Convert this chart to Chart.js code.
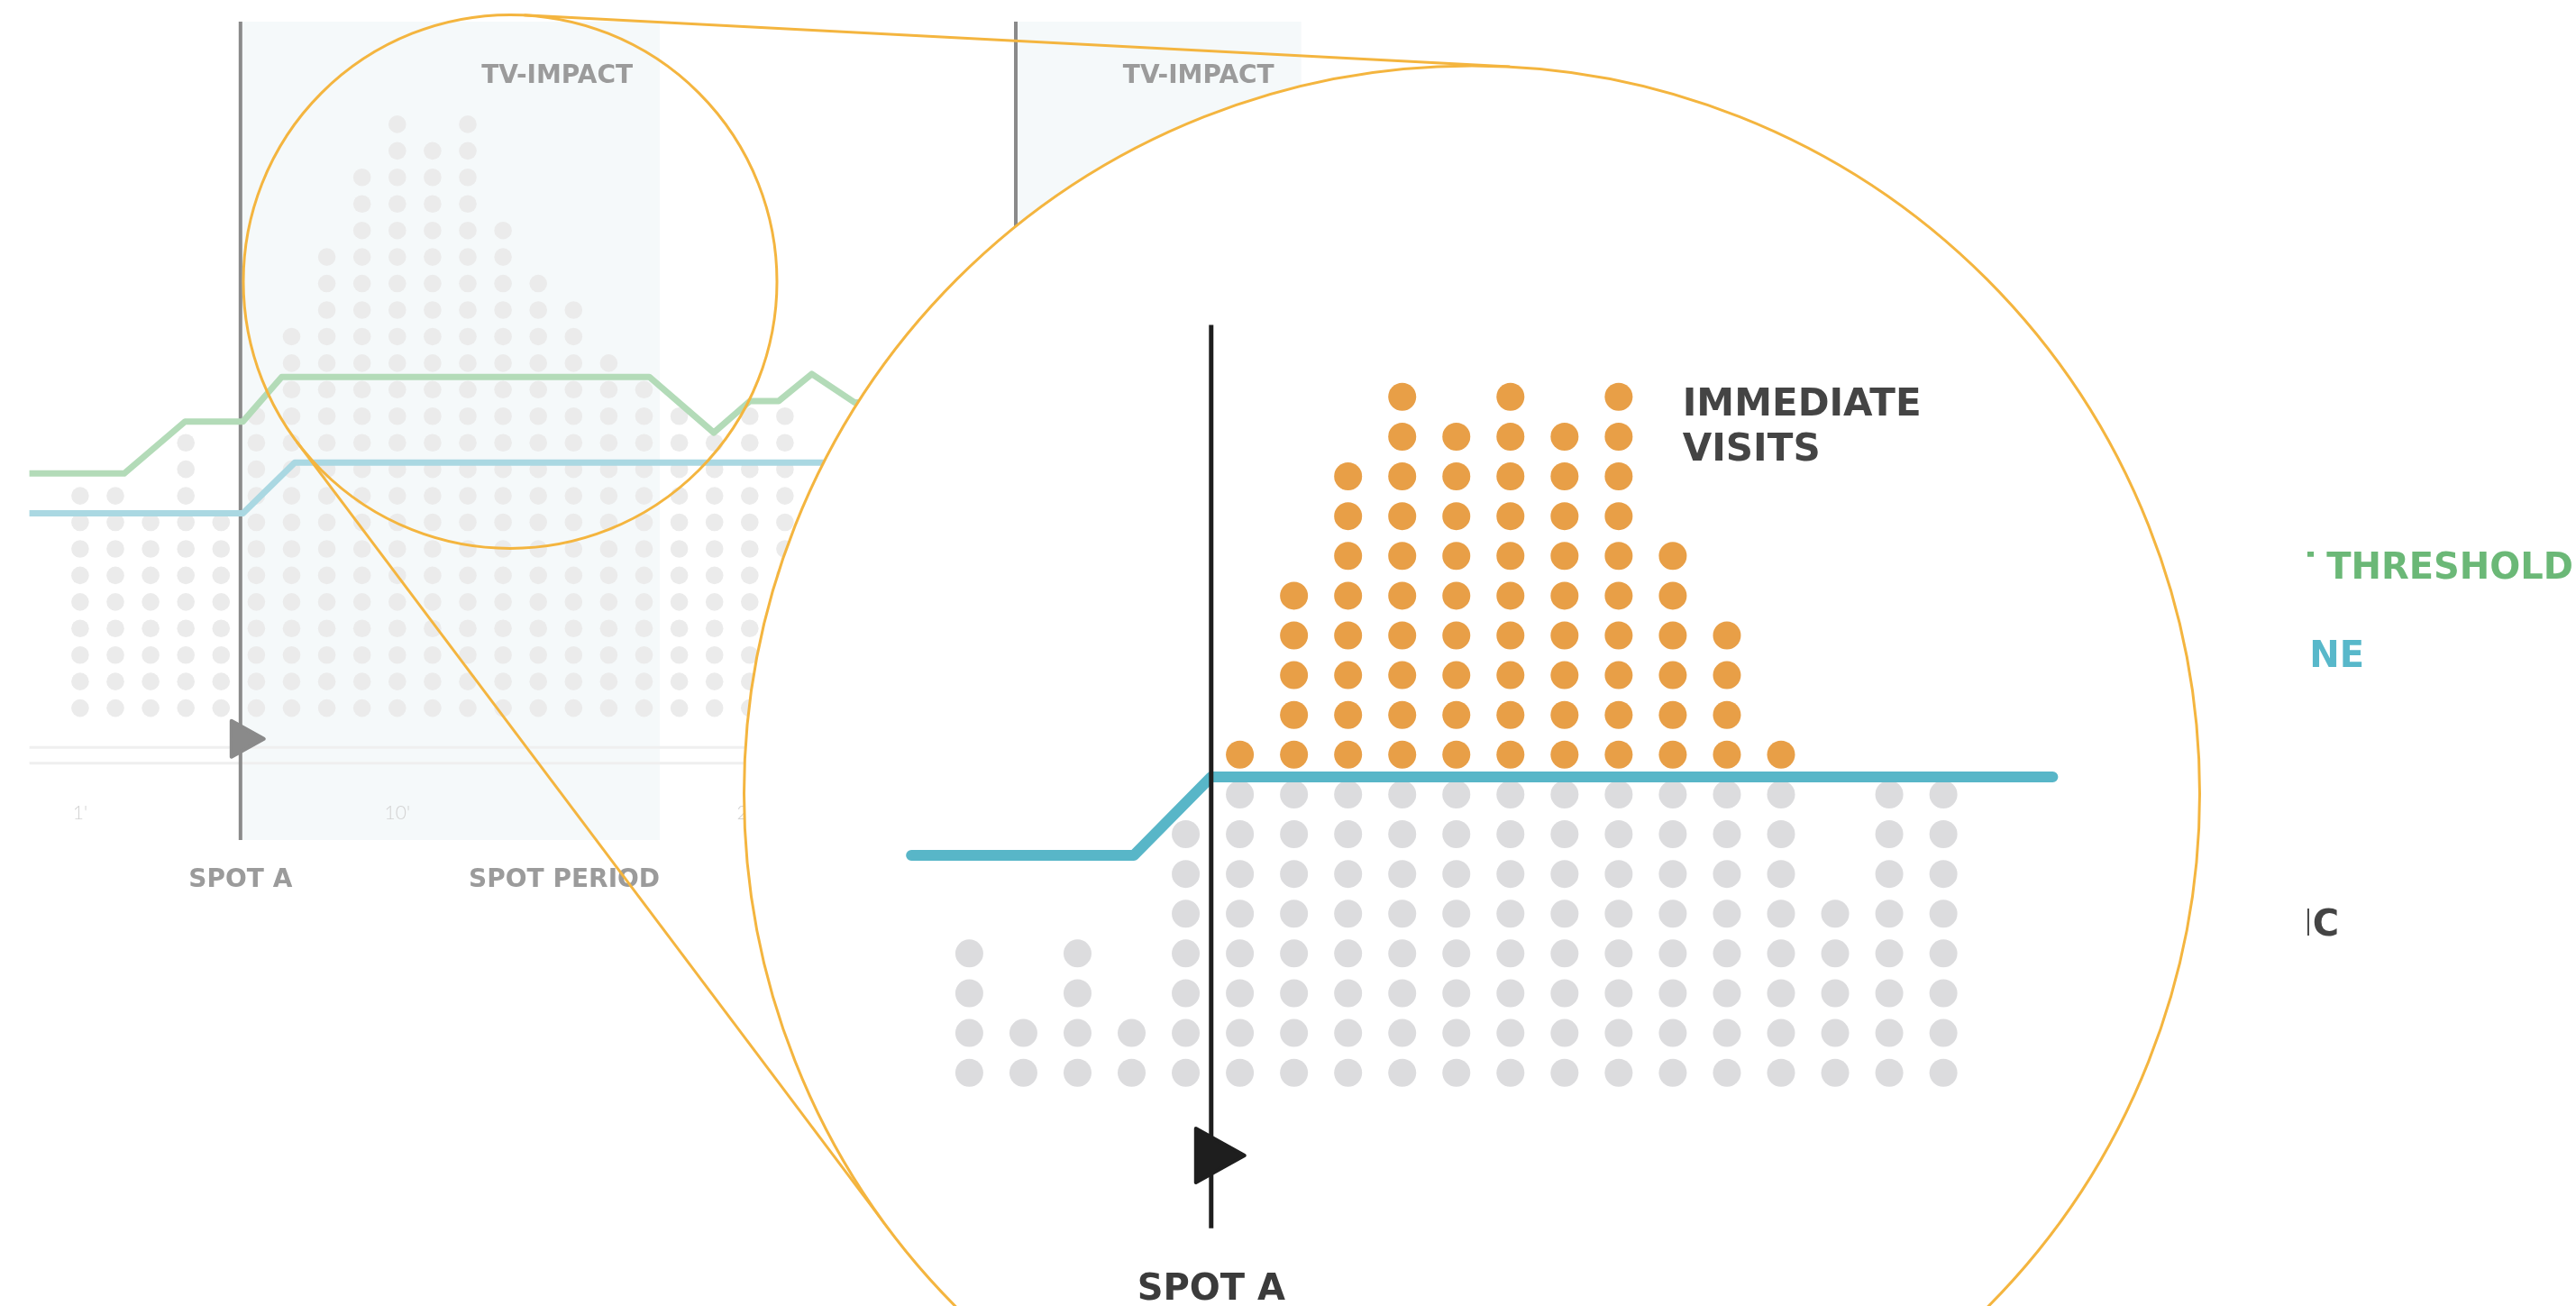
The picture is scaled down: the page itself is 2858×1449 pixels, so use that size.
<!DOCTYPE html>
<html lang="en">
<head>
<meta charset="utf-8">
<title>TV-IMPACT – immediate visits</title>
<script src="https://cdn.jsdelivr.net/npm/chart.js@4.4.1/dist/chart.umd.min.js"></script>
<style>
  html, body { margin: 0; padding: 0; background: #fff; overflow: hidden; }
  #grafico { display: block; }
</style>
</head>
<body>
<canvas id="grafico" width="2858" height="1449"></canvas>
<script>
// ============================================================
// TV-IMPACT – visits per minute, with a lens on the spot
// ============================================================

// ---- background chart (one dot = one visit) ----
const bgMinutes = [1, 2, 3, 4, 5, 6, 7, 8, 9, 10, 11, 12, 13, 14, 15, 16, 17, 18, 19, 20, 21];
const bgVisits  = [9, 9, 8, 11, 8, 12, 15, 18, 21, 23, 22, 23, 19, 17, 16, 14, 13, 12, 11, 12, 12];

const thresholdMinutes = [-0.44, 2.25, 3.98, 5.62, 6.72, 17.15, 18.98, 20.01, 20.82, 21.76, 22.97, 25];
const thresholdLevels  = [9.84, 9.84, 11.8, 11.8, 13.48, 13.48, 11.38, 12.57, 12.57, 13.59, 12.52, 12.52];
const baselineMinutes  = [-0.44, 5.62, 7.09, 30];
const baselineLevels   = [8.34, 8.34, 10.25, 10.25];

const tickMinutes = [1, 10, 20, 30];
const tickLabels  = ["1'", "10'", "20'", "30'"];

const spotA    = 5.55;   // spot A goes on air
const spotAEnd = 17.45;  // end of the spot period
const spotB    = 27.55;
const spotBEnd = 35.65;

// ---- lens (zoomed view around spot A) ----
const zoomMinutes   = [1, 2, 3, 4, 5, 6, 7, 8, 9, 10, 11, 12, 13, 14, 15, 16, 17, 18, 19];
const zoomOrganic   = [4, 2, 4, 2, 7, 8, 8, 8, 8, 8, 8, 8, 8, 8, 8, 8, 5, 8, 8];
const zoomImmediate = [0, 0, 0, 0, 0, 1, 5, 8, 10, 9, 10, 9, 10, 6, 4, 1, 0, 0, 0];
const zoomBaseMinutes = [-0.07, 4.04, 5.47, 21.02];
const zoomBaseLevels  = [6.47, 6.47, 8.44, 8.44];
const zoomSpot = 5.47;

// ---- labels on the right (cut at the left) ----
const legendLabels = ["IMPACT THRESHOLD", "BASELINE", "ORGANIC"];
const legendColors = ["#6bb877", "#58b8ca", "#444444"];

// ---- layout ----
const W = 2858, H = 1449;
const BG = { x0: 88.9, dx: 39.1, y0: 785.6, dy: 29.44 };    // px of minute 1 / level 1 and step
const ZM = { x0: 1075.4, dx: 60.04, y0: 1190.2, dy: 44.11 };
const lensSmall = { x: 566, y: 312.4, r: 296 };
const lensBig   = { x: 1633, y: 880.4, r: 807.5 };
const lensColor = "#f4b53f";
const LV  = { left: -0.44, right: 45, shadeTop: 26.87, shadeBottom: -3.97, guides: [-0.48, -1.08],
              ticks: -2.92, marker: -0.16, title: 24.9, spotText: -5.4 };
const ZLV = { lineTop: 19.81, lineBottom: -2.91, marker: -1.08, spotText: -4.37,
              labelX: 14.18, label1: 17.88, label2: 16.74 };
const legendPos = { clipX: 2560, right: [2855, 2623, 2595], y: [627, 725, 1023], size: 40 };

const rangeX = g => ({ min: 1 - g.x0 / g.dx, max: 1 + (W - g.x0) / g.dx });
const rangeY = g => ({ min: 1 - (H - g.y0) / g.dy, max: 1 + g.y0 / g.dy });

function stackDots(minutes, counts, below) {
    const pts = [];
    minutes.forEach((m, i) => {
        const start = below ? below[i] : 0;
        for (let k = 1; k <= counts[i]; k++) pts.push({ x: m, y: start + k });
    });
    return pts;
}
const zip = (xs, ys) => xs.map((x, i) => ({ x, y: ys[i] }));

function label(ctx, str, x, cy, size, color, align, weight = "bold", family = '"DejaVu Sans"', cap = 0.729) {
    ctx.font = `${weight} ${size}px ${family}`;
    ctx.fillStyle = color;
    ctx.textAlign = align;
    ctx.textBaseline = "alphabetic";
    ctx.fillText(str, x, cy + size * cap / 2);
}

function triangle(ctx, x, cy, back, tip, half, color) {
    ctx.fillStyle = color;
    ctx.strokeStyle = color;
    ctx.lineJoin = "round";
    ctx.lineWidth = 4;
    ctx.beginPath();
    ctx.moveTo(x - back, cy - half);
    ctx.lineTo(x + tip, cy);
    ctx.lineTo(x - back, cy + half);
    ctx.closePath();
    ctx.fill();
    ctx.stroke();
}

function outerTangents(c1, c2) {
    const base = Math.atan2(c2.y - c1.y, c2.x - c1.x);
    const a = Math.acos((c1.r - c2.r) / Math.hypot(c2.x - c1.x, c2.y - c1.y));
    return [base + a, base - a].map(t => ({
        x1: c1.x + c1.r * Math.cos(t), y1: c1.y + c1.r * Math.sin(t),
        x2: c2.x + c2.r * Math.cos(t), y2: c2.y + c2.r * Math.sin(t)
    }));
}

function clipLens(ctx) {
    ctx.beginPath();
    ctx.arc(lensBig.x, lensBig.y, lensBig.r, 0, Math.PI * 2);
    ctx.clip();
}

function drawLensFrame(ctx) {
    ctx.save();
    ctx.strokeStyle = lensColor;
    ctx.lineWidth = 3;
    ctx.beginPath();
    ctx.arc(lensSmall.x, lensSmall.y, lensSmall.r, 0, Math.PI * 2);
    ctx.stroke();
    outerTangents(lensSmall, lensBig).forEach(t => {
        ctx.beginPath();
        ctx.moveTo(t.x1, t.y1);
        ctx.lineTo(t.x2, t.y2);
        ctx.stroke();
    });
    ctx.fillStyle = "#ffffff";
    ctx.beginPath();
    ctx.arc(lensBig.x, lensBig.y, lensBig.r, 0, Math.PI * 2);
    ctx.fill();
    ctx.restore();
}

const lensPlugin = {
    id: "lens",
    beforeDatasetsDraw(chart) {
        chart.$lensOpen = false;
        const ctx = chart.ctx;
        const X = v => chart.scales.x.getPixelForValue(v);
        const Y = v => chart.scales.y.getPixelForValue(v);
        ctx.save();

        // spot periods
        ctx.fillStyle = "#f5f9fa";
        [[spotA, spotAEnd], [spotB, spotBEnd]].forEach(([a, b]) => {
            ctx.fillRect(X(a), Y(LV.shadeTop), X(b) - X(a), Y(LV.shadeBottom) - Y(LV.shadeTop));
        });

        // guide lines under the dots
        ctx.strokeStyle = "#efefef";
        ctx.lineWidth = 3;
        LV.guides.forEach(g => {
            ctx.beginPath();
            ctx.moveTo(X(LV.left), Y(g));
            ctx.lineTo(X(LV.right), Y(g));
            ctx.stroke();
        });

        // minute ticks
        tickMinutes.forEach((m, i) => label(ctx, tickLabels[i], X(m), Y(LV.ticks), 21, "#d2d2d2", "center", "300", "Lato", 0.72));

        // spot lines
        ctx.strokeStyle = "#8a8a8a";
        ctx.lineWidth = 4;
        [spotA, spotB].forEach(s => {
            ctx.beginPath();
            ctx.moveTo(X(s), Y(LV.shadeTop));
            ctx.lineTo(X(s), Y(LV.shadeBottom));
            ctx.stroke();
        });
        triangle(ctx, X(spotA), Y(LV.marker), 10, 26, 20, "#8a8a8a");

        // texts
        label(ctx, "TV-IMPACT", X(spotAEnd) - 30, Y(LV.title), 28, "#9b9b9b", "right");
        label(ctx, "TV-IMPACT", X(spotBEnd) - 30, Y(LV.title), 28, "#9b9b9b", "right");
        label(ctx, "SPOT A", X(spotA), Y(LV.spotText), 28, "#9b9b9b", "center");
        label(ctx, "SPOT PERIOD", X(spotAEnd), Y(LV.spotText), 28, "#9b9b9b", "right");
        ctx.restore();
    },
    beforeDatasetDraw(chart, args) {
        if (!chart.data.datasets[args.index].inLens) return;
        const ctx = chart.ctx;
        if (!chart.$lensOpen) {
            drawLensFrame(ctx);
            chart.$lensOpen = true;
        }
        ctx.save();
        clipLens(ctx);
    },
    afterDatasetDraw(chart, args) {
        if (chart.data.datasets[args.index].inLens) chart.ctx.restore();
    },
    afterDatasetsDraw(chart) {
        const ctx = chart.ctx;
        const X = v => chart.scales.x2.getPixelForValue(v);
        const Y = v => chart.scales.y2.getPixelForValue(v);

        ctx.save();
        clipLens(ctx);
        ctx.strokeStyle = "#1e1e1e";
        ctx.lineWidth = 5;
        ctx.beginPath();
        ctx.moveTo(X(zoomSpot), Y(ZLV.lineTop));
        ctx.lineTo(X(zoomSpot), Y(ZLV.lineBottom));
        ctx.stroke();
        triangle(ctx, X(zoomSpot), Y(ZLV.marker), 17, 37, 30, "#1e1e1e");
        label(ctx, "SPOT A", X(zoomSpot), Y(ZLV.spotText), 40, "#3b3b3b", "center");
        label(ctx, "IMMEDIATE", X(ZLV.labelX), Y(ZLV.label1), 42, "#444444", "left");
        label(ctx, "VISITS", X(ZLV.labelX), Y(ZLV.label2), 42, "#444444", "left");
        ctx.restore();

        // lens outline
        ctx.save();
        ctx.strokeStyle = lensColor;
        ctx.lineWidth = 3;
        ctx.beginPath();
        ctx.arc(lensBig.x, lensBig.y, lensBig.r, 0, Math.PI * 2);
        ctx.stroke();
        ctx.restore();

        // legend, cut on the left
        ctx.save();
        ctx.beginPath();
        ctx.rect(legendPos.clipX, 0, W - legendPos.clipX, H);
        ctx.clip();
        legendLabels.forEach((t, i) => label(ctx, t, legendPos.right[i], legendPos.y[i], legendPos.size, legendColors[i], "right"));
        ctx.restore();
    }
};

const hidden = { type: "linear", display: false, bounds: "data", grid: { display: false }, ticks: { display: false } };

new Chart(document.getElementById("grafico").getContext("2d"), {
    type: "scatter",
    data: {
        datasets: [
            { label: "Visits", data: stackDots(bgMinutes, bgVisits), xAxisID: "x", yAxisID: "y", order: 6,
              pointRadius: 9.8, pointHoverRadius: 9.8, pointBackgroundColor: "#ebebeb", pointBorderWidth: 0 },
            { label: "Impact threshold", data: zip(thresholdMinutes, thresholdLevels), xAxisID: "x", yAxisID: "y", order: 5,
              showLine: true, borderColor: "#b3dbb8", borderWidth: 7, borderJoinStyle: "round", pointRadius: 0, fill: false },
            { label: "Baseline", data: zip(baselineMinutes, baselineLevels), xAxisID: "x", yAxisID: "y", order: 4,
              showLine: true, borderColor: "#aad8e2", borderWidth: 7, borderJoinStyle: "round", pointRadius: 0, fill: false },
            { label: "Organic", data: stackDots(zoomMinutes, zoomOrganic), xAxisID: "x2", yAxisID: "y2", order: 3, inLens: true,
              pointRadius: 15.5, pointHoverRadius: 15.5, pointBackgroundColor: "#dcdcde", pointBorderWidth: 0 },
            { label: "Immediate visits", data: stackDots(zoomMinutes, zoomImmediate, zoomOrganic), xAxisID: "x2", yAxisID: "y2", order: 2, inLens: true,
              pointRadius: 15.5, pointHoverRadius: 15.5, pointBackgroundColor: "#e89f47", pointBorderWidth: 0 },
            { label: "Baseline (lens)", data: zip(zoomBaseMinutes, zoomBaseLevels), xAxisID: "x2", yAxisID: "y2", order: 1, inLens: true,
              showLine: true, borderColor: "#58b6c8", borderWidth: 12, borderCapStyle: "round", borderJoinStyle: "round", pointRadius: 0, fill: false }
        ]
    },
    options: {
        responsive: false,
        animation: false,
        devicePixelRatio: 1,
        events: [],
        layout: { padding: 0, autoPadding: false },
        plugins: { legend: { display: false }, tooltip: { enabled: false } },
        scales: {
            x:  { ...hidden, axis: "x", position: "bottom", ...rangeX(BG) },
            y:  { ...hidden, axis: "y", position: "left", ...rangeY(BG) },
            x2: { ...hidden, axis: "x", position: "bottom", ...rangeX(ZM) },
            y2: { ...hidden, axis: "y", position: "left", ...rangeY(ZM) }
        }
    },
    plugins: [lensPlugin]
});
</script>
</body>
</html>
